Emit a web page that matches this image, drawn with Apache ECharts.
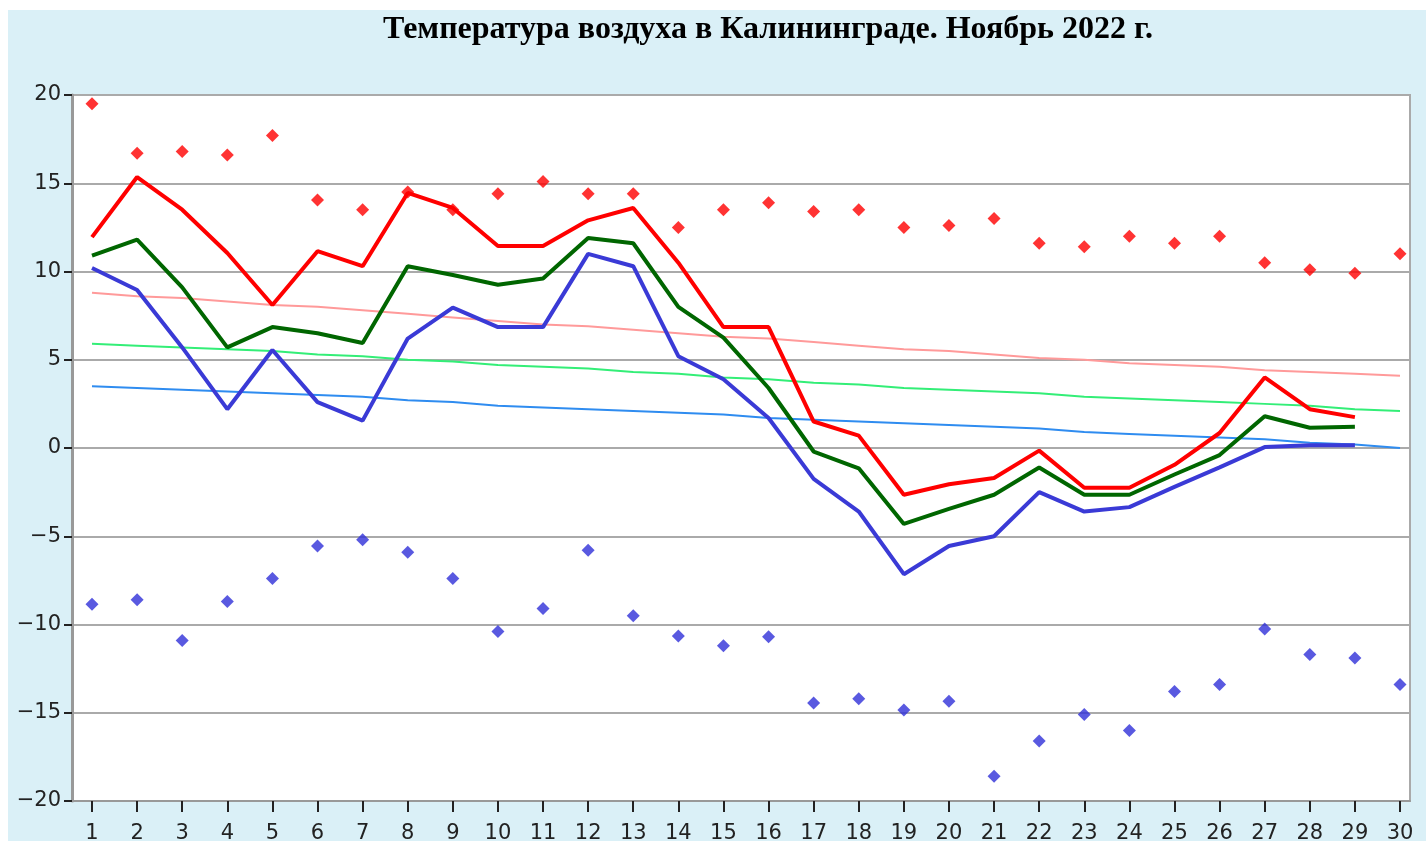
<!DOCTYPE html>
<html>
<head>
<meta charset="utf-8">
<title>Температура воздуха в Калининграде</title>
<script src="https://cdn.jsdelivr.net/npm/echarts@6/dist/echarts.min.js"></script>
<style>
    html, body { margin: 0; padding: 0; background: #fff; }
    #chart { position: absolute; left: 8px; top: 10px; width: 1418px; height: 831px; }
</style>
</head>
<body>
<div id="chart"></div>
<script>
(function () {
    'use strict';

    var days = [1, 2, 3, 4, 5, 6, 7, 8, 9, 10, 11, 12, 13, 14, 15, 16, 17, 18, 19, 20,
        21, 22, 23, 24, 25, 26, 27, 28, 29, 30];

    // absolute max / min for the date (points)
    var absMax = [19.5, 16.7, 16.8, 16.6, 17.7, 14.05, 13.5, 14.5, 13.5, 14.4, 15.1, 14.4, 14.4, 12.5, 13.5,
        13.9, 13.4, 13.5, 12.5, 12.6, 13.0, 11.6, 11.4, 12.0, 11.6, 12.0, 10.5, 10.1, 9.9, 11.0];
    var absMin = [-8.85, -8.6, -10.9, -8.7, -7.4, -5.55, -5.2, -5.9, -7.4, -10.4, -9.1, -5.8, -9.5, -10.65, -11.2,
        -10.7, -14.45, -14.2, -14.85, -14.35, -18.6, -16.6, -15.1, -16.0, -13.8, -13.4, -10.25, -11.7, -11.9, -13.4];

    // observed in November 2022
    var tMax = [11.95, 15.35, 13.5, 11.05, 8.1, 11.15, 10.3, 14.45, 13.6, 11.45, 11.45, 12.9, 13.6, 10.5, 6.85,
        6.85, 1.5, 0.7, -2.65, -2.05, -1.7, -0.15, -2.25, -2.25, -0.95, 0.85, 4.0, 2.2, 1.75];
    var tMean = [10.9, 11.8, 9.1, 5.7, 6.85, 6.5, 5.95, 10.3, 9.8, 9.25, 9.6, 11.9, 11.6, 8.0, 6.25,
        3.4, -0.2, -1.15, -4.3, -3.45, -2.65, -1.1, -2.65, -2.65, -1.5, -0.4, 1.8, 1.15, 1.2];
    var tMin = [10.2, 8.95, 5.7, 2.2, 5.55, 2.6, 1.55, 6.2, 7.95, 6.85, 6.85, 11.0, 10.3, 5.2, 3.9,
        1.7, -1.75, -3.6, -7.15, -5.55, -5.0, -2.5, -3.6, -3.35, -2.2, -1.1, 0.05, 0.15, 0.15];

    // climate norms
    var normMax = [8.8, 8.6, 8.5, 8.3, 8.1, 8.0, 7.8, 7.6, 7.4, 7.2, 7.0, 6.9, 6.7, 6.5, 6.3,
        6.2, 6.0, 5.8, 5.6, 5.5, 5.3, 5.1, 5.0, 4.8, 4.7, 4.6, 4.4, 4.3, 4.2, 4.1];
    var normMean = [5.9, 5.8, 5.7, 5.6, 5.5, 5.3, 5.2, 5.0, 4.9, 4.7, 4.6, 4.5, 4.3, 4.2, 4.0,
        3.9, 3.7, 3.6, 3.4, 3.3, 3.2, 3.1, 2.9, 2.8, 2.7, 2.6, 2.5, 2.4, 2.2, 2.1];
    var normMin = [3.5, 3.4, 3.3, 3.2, 3.1, 3.0, 2.9, 2.7, 2.6, 2.4, 2.3, 2.2, 2.1, 2.0, 1.9,
        1.7, 1.6, 1.5, 1.4, 1.3, 1.2, 1.1, 0.9, 0.8, 0.7, 0.6, 0.5, 0.3, 0.2, 0.0];

    var yTicks = [-20, -15, -10, -5, 0, 5, 10, 15, 20];

    function pairs(values) {
        var out = [];
        for (var i = 0; i < values.length; i++) {
            out.push([days[i], values[i]]);
        }
        return out;
    }

    function line(values, color, width) {
        return {
            type: 'line',
            data: pairs(values),
            symbol: 'none',
            lineStyle: { color: color, width: width },
            animation: false
        };
    }

    function dots(values, color) {
        return {
            type: 'scatter',
            data: pairs(values),
            symbol: 'diamond',
            symbolSize: 13,
            itemStyle: { color: color },
            z: 5,
            animation: false
        };
    }

    var labelFont = { fontFamily: 'DejaVu Sans', fontSize: 21, color: '#222' };

    var chart = echarts.init(document.getElementById('chart'));

    chart.setOption({
        backgroundColor: '#daf0f7',
        title: {
            text: 'Температура воздуха в Калининграде. Ноябрь 2022 г.',
            left: 375,
            top: 4,
            padding: 0,
            textStyle: {
                fontFamily: 'Liberation Serif',
                fontWeight: 'bold',
                fontSize: 32,
                color: '#000'
            }
        },
        grid: {
            left: 64,
            top: 85,
            right: 16,
            bottom: 40,
            outerBoundsMode: 'none',
            show: true,
            backgroundColor: '#fff',
            borderColor: '#aaa',
            borderWidth: 2
        },
        xAxis: {
            type: 'value',
            min: 0.5566,
            max: 30.2217,
            axisLine: { show: true, onZero: false, lineStyle: { color: '#999', width: 2 } },
            axisTick: {
                show: true,
                length: 11,
                customValues: days,
                lineStyle: { color: '#222', width: 2 }
            },
            axisLabel: Object.assign({ margin: 22, customValues: days }, labelFont),
            splitLine: { show: false }
        },
        yAxis: {
            type: 'value',
            min: yTicks[0],
            max: yTicks[yTicks.length - 1],
            interval: 5,
            axisLine: { show: true, lineStyle: { color: '#999', width: 3 } },
            axisTick: { show: true, length: 8, lineStyle: { color: '#222', width: 2 } },
            axisLabel: Object.assign({
                margin: 11,
                formatter: function (v) { return String(v).replace('-', '\u2212'); }
            }, labelFont),
            splitLine: { show: true, lineStyle: { color: '#aaa', width: 2 } }
        },
        series: [
            line(normMax, '#ff9a9a', 2),
            line(normMean, '#33ee77', 2),
            line(normMin, '#2f8cf0', 2),
            line(tMax, '#ff0000', 4),
            line(tMean, '#006600', 4),
            line(tMin, '#3a3ad6', 4),
            dots(absMax, '#ff0000'),
            dots(absMin, '#3030d8')
        ]
    });
}());
</script>
</body>
</html>
